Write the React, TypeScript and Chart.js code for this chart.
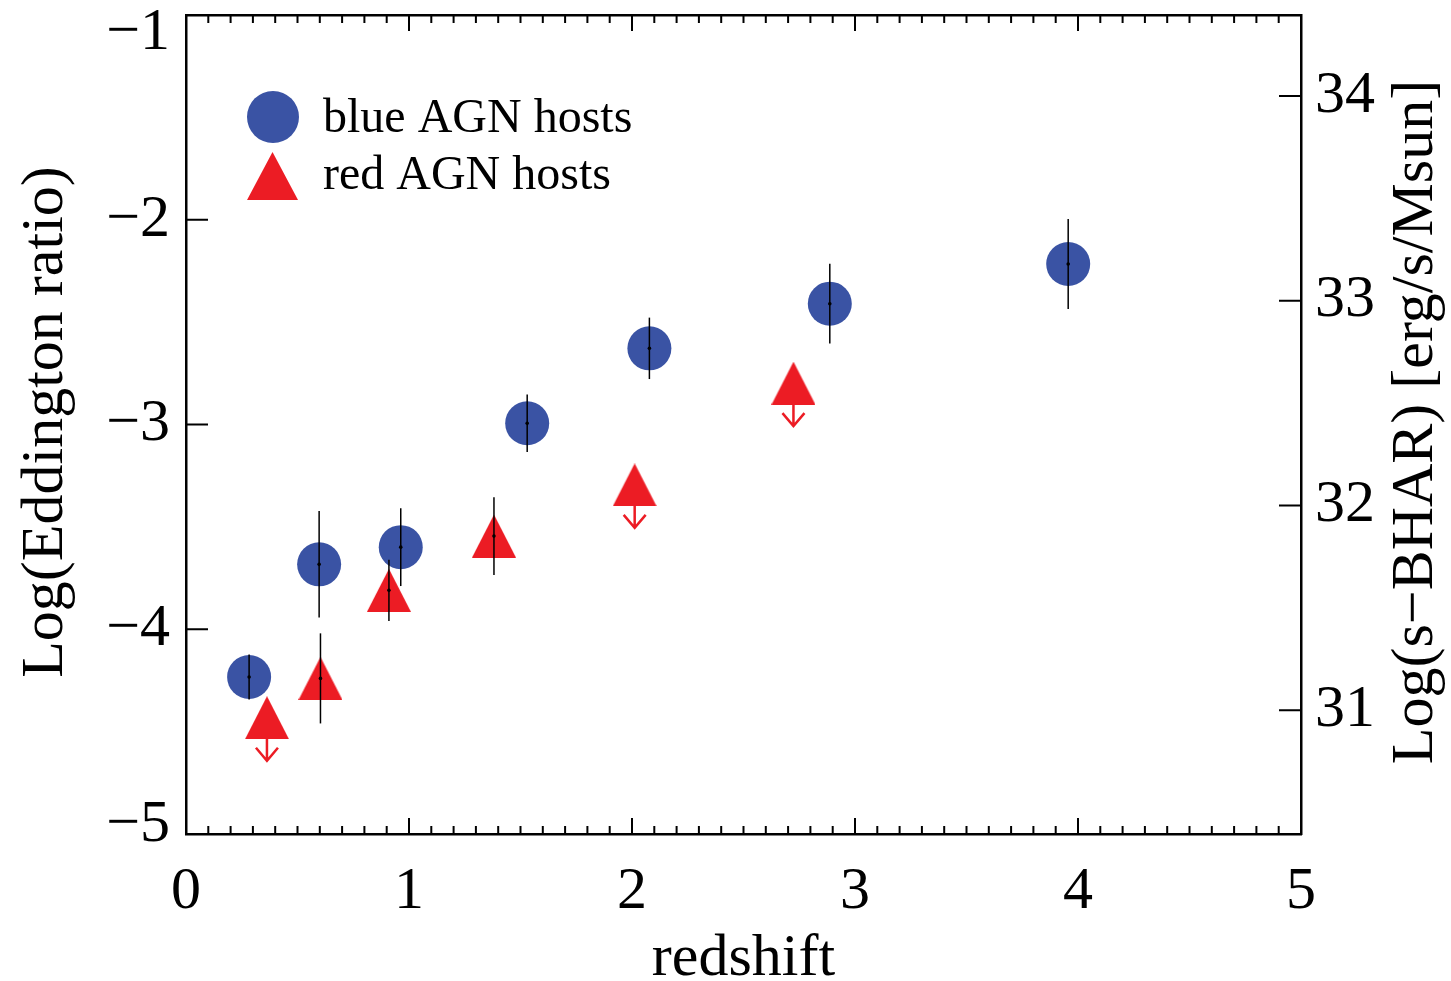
import React, { useEffect, useRef } from 'react';
import { Chart, registerables } from 'chart.js';
Chart.register(...registerables);

// ---- data ----
const blueX = [0.283, 0.597, 0.963, 1.53, 2.078, 2.887, 3.956];
const blueY = [-4.233, -3.683, -3.599, -2.994, -2.628, -2.41, -2.216];
const blueErr = [0.11, 0.26, 0.19, 0.14, 0.15, 0.195, 0.22];
const redX = [0.363, 0.603, 0.91, 1.381, 2.012, 2.724];
const redY = [-4.432, -4.24, -3.81, -3.545, -3.295, -2.798];
const redErr = [0, 0.22, 0.15, 0.19, 0, 0];
const redUpperLimit = [true, false, false, false, true, true];
const xTicks = [0, 1, 2, 3, 4, 5];
const yTicks = [-5, -4, -3, -2, -1];
const rightTicks = [31, 32, 33, 34];
const rightOffset = 35.395; // Log(s-BHAR) = Log(Eddington ratio) + offset

const BLUE = '#3a53a4';
const RED = '#ec1c24';
const FONT = '"Liberation Serif", "Times New Roman", serif';
const W = 1451;
const H = 981;
const OFF = 7; // canvas is shifted up by this much on the page
const CH = H + OFF;

function makeTriangle(w: number, h: number, color: string) {
  const c = document.createElement('canvas');
  c.width = w;
  c.height = h;
  const g = c.getContext('2d')!;
  g.fillStyle = color;
  g.beginPath();
  g.moveTo(w / 2, 0);
  g.lineTo(w, h);
  g.lineTo(0, h);
  g.closePath();
  g.fill();
  return c;
}

const minus = (v: number) => (v < 0 ? '\u2212' + Math.abs(v) : String(v));

const decorPlugin = {
  id: 'decor',
  afterDatasetsDraw(chart: any) {
    const ctx = chart.ctx as CanvasRenderingContext2D;
    const xs = chart.scales.x;
    const ys = chart.scales.y;
    const y2 = chart.scales.y2;
    const area = chart.chartArea;
    ctx.save();
    // error bars
    ctx.strokeStyle = '#000';
    ctx.fillStyle = '#000';
    ctx.lineWidth = 1.5;
    const bars = (X: number[], Y: number[], E: number[]) => {
      X.forEach((xv, i) => {
        if (!E[i]) return;
        const px = xs.getPixelForValue(xv);
        ctx.beginPath();
        ctx.moveTo(px, ys.getPixelForValue(Y[i] + E[i]));
        ctx.lineTo(px, ys.getPixelForValue(Y[i] - E[i]));
        ctx.stroke();
        ctx.beginPath();
        ctx.arc(px, ys.getPixelForValue(Y[i]), 1.8, 0, Math.PI * 2);
        ctx.fill();
      });
    };
    bars(blueX, blueY, blueErr);
    bars(redX, redY, redErr);
    // upper-limit arrows
    ctx.strokeStyle = RED;
    ctx.lineWidth = 2.5;
    redX.forEach((xv, i) => {
      if (!redUpperLimit[i]) return;
      const px = xs.getPixelForValue(xv);
      const py = ys.getPixelForValue(redY[i]);
      ctx.beginPath();
      ctx.moveTo(px, py + 21);
      ctx.lineTo(px, py + 43);
      ctx.moveTo(px - 11, py + 30);
      ctx.lineTo(px, py + 43);
      ctx.lineTo(px + 11, py + 30);
      ctx.stroke();
    });
    // inward ticks
    ctx.strokeStyle = '#000';
    ctx.lineWidth = 2;
    ctx.beginPath();
    for (let i = 1; i < 50; i++) {
      const v = i / 10;
      const px = xs.getPixelForValue(v);
      const len = i % 10 === 0 ? 16 : 8;
      ctx.moveTo(px, area.bottom);
      ctx.lineTo(px, area.bottom - len);
      ctx.moveTo(px, area.top);
      ctx.lineTo(px, area.top + len);
    }
    yTicks.forEach((v) => {
      const py = ys.getPixelForValue(v);
      ctx.moveTo(area.left, py);
      ctx.lineTo(area.left + 22, py);
    });
    rightTicks.forEach((v) => {
      const py = y2.getPixelForValue(v);
      ctx.moveTo(area.right, py);
      ctx.lineTo(area.right - 22, py);
    });
    ctx.stroke();
    // left tick labels (kept inside the frame's vertical span, as in the original)
    ctx.fillStyle = '#000';
    ctx.font = `60px ${FONT}`;
    ctx.textAlign = 'right';
    ctx.textBaseline = 'middle';
    yTicks.forEach((v) => {
      const py = ys.getPixelForValue(v);
      const ly = Math.min(Math.max(py, area.top + 18), area.bottom - 9);
      ctx.fillText(minus(v), area.left - 16, ly);
    });
    // page-coordinate decorations
    ctx.translate(0, OFF);
    // legend
    ctx.fillStyle = BLUE;
    ctx.beginPath();
    ctx.arc(273, 117, 26, 0, Math.PI * 2);
    ctx.fill();
    ctx.fillStyle = RED;
    ctx.beginPath();
    ctx.moveTo(272.5, 152);
    ctx.lineTo(298, 200);
    ctx.lineTo(247, 200);
    ctx.closePath();
    ctx.fill();
    ctx.fillStyle = '#000';
    ctx.font = `48px ${FONT}`;
    ctx.textAlign = 'left';
    ctx.textBaseline = 'alphabetic';
    ctx.fillText('blue AGN hosts', 323, 132);
    ctx.fillText('red AGN hosts', 323, 189);
    // axis titles
    ctx.font = `60px ${FONT}`;
    ctx.textAlign = 'center';
    ctx.fillText('redshift', (area.left + area.right) / 2, 975);
    ctx.save();
    ctx.translate(62, 422);
    ctx.rotate(-Math.PI / 2);
    ctx.fillText('Log(Eddington ratio)', 0, 0);
    ctx.restore();
    ctx.save();
    ctx.translate(1432, 422);
    ctx.rotate(-Math.PI / 2);
    ctx.fillText('Log(s\u2212BHAR) [erg/s/Msun]', 0, 0);
    ctx.restore();
    ctx.restore();
  },
};

export default function App() {
  const ref = useRef<HTMLCanvasElement | null>(null);
  useEffect(() => {
    document.body.style.margin = '0';
    const canvas = ref.current!;
    const tri = makeTriangle(44, 43, RED);
    const tickFont = { family: FONT, size: 60 };
    const chart = new Chart(canvas, {
      type: 'scatter',
      data: {
        datasets: [
          {
            label: 'red AGN hosts',
            data: redX.map((x, i) => ({ x, y: redY[i] })),
            pointStyle: tri as any,
            pointRadius: 22,
            backgroundColor: RED,
            borderWidth: 0,
          },
          {
            label: 'blue AGN hosts',
            data: blueX.map((x, i) => ({ x, y: blueY[i] })),
            pointStyle: 'circle',
            pointRadius: 22,
            backgroundColor: BLUE,
            borderColor: BLUE,
            borderWidth: 0,
          },
        ],
      },
      options: {
        responsive: false,
        animation: false,
        devicePixelRatio: 1,
        layout: { padding: 0 },
        plugins: { legend: { display: false }, tooltip: { enabled: false } },
        scales: {
          x: {
            type: 'linear',
            position: 'bottom',
            min: 0,
            max: 5,
            afterBuildTicks: (s: any) => {
              s.ticks = xTicks.map((value) => ({ value }));
            },
            afterFit: (s: any) => {
              s.height = CH - (834 + OFF);
              s.paddingLeft = 0;
              s.paddingRight = 0;
            },
            grid: { display: false, drawTicks: false },
            border: { display: true, color: '#000', width: 2.5 },
            ticks: { font: tickFont, color: '#000', padding: 22, maxRotation: 0, callback: (v: any) => minus(Number(v)) },
          },
          x2: {
            type: 'linear',
            position: 'top',
            min: 0,
            max: 5,
            afterFit: (s: any) => {
              s.height = 14 + OFF;
              s.paddingLeft = 0;
              s.paddingRight = 0;
            },
            grid: { display: false, drawTicks: false },
            border: { display: true, color: '#000', width: 2.5 },
            ticks: { display: false },
          },
          y: {
            type: 'linear',
            position: 'left',
            min: -5,
            max: -1,
            afterBuildTicks: (s: any) => {
              s.ticks = yTicks.map((value) => ({ value }));
            },
            afterFit: (s: any) => {
              s.width = 186;
              s.paddingTop = 0;
              s.paddingBottom = 0;
            },
            grid: { display: false, drawTicks: false },
            border: { display: true, color: '#000', width: 2.5 },
            ticks: { display: false },
          },
          y2: {
            type: 'linear',
            position: 'right',
            min: -5 + rightOffset,
            max: -1 + rightOffset,
            afterBuildTicks: (s: any) => {
              s.ticks = rightTicks.map((value) => ({ value }));
            },
            afterFit: (s: any) => {
              s.width = W - 1301;
              s.paddingTop = 0;
              s.paddingBottom = 0;
            },
            grid: { display: false, drawTicks: false },
            border: { display: true, color: '#000', width: 2.5 },
            ticks: { font: tickFont, color: '#000', padding: 14, callback: (v: any) => String(v) },
          },
        },
      },
      plugins: [decorPlugin],
    } as any);
    return () => chart.destroy();
  }, []);
  return (
    <div style={{ position: 'absolute', left: 0, top: 0, width: W, height: H, overflow: 'hidden', background: '#fff' }}>
      <canvas ref={ref} width={W} height={CH} style={{ display: 'block', position: 'absolute', left: 0, top: -OFF }} />
    </div>
  );
}
